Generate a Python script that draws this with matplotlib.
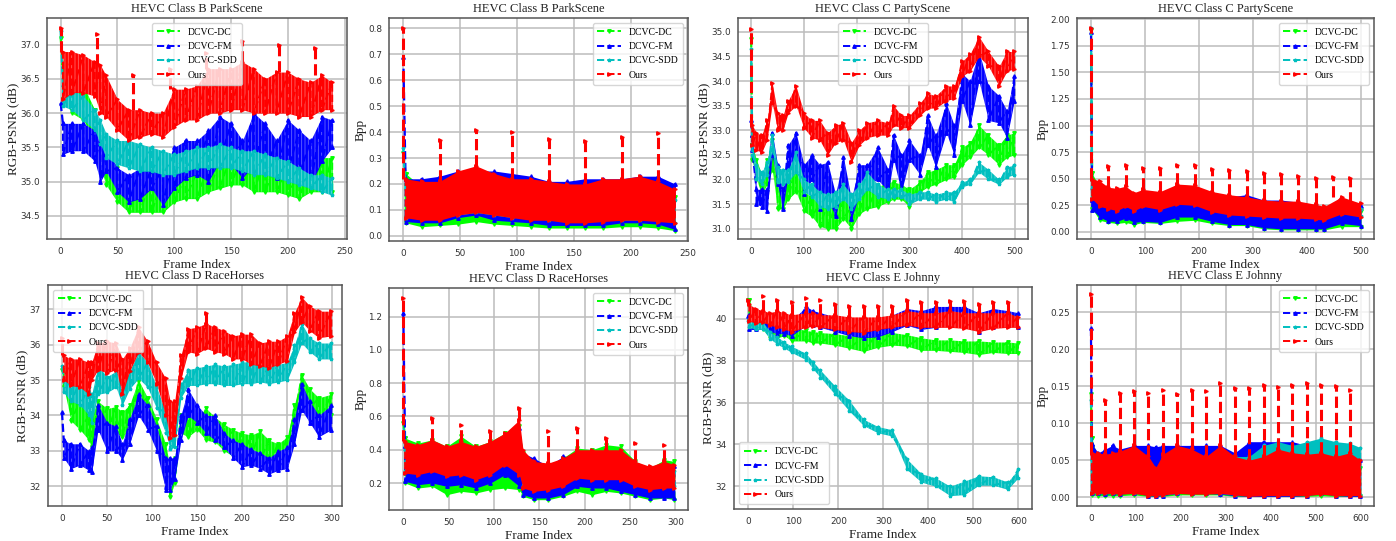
import numpy as np
import matplotlib
matplotlib.use("Agg")
import matplotlib.pyplot as plt

W, H = 1396, 541
SERIF = ["Liberation Serif", "DejaVu Serif"]
plt.rcParams["hatch.linewidth"] = 0.6

NAMES = ["DCVC-DC", "DCVC-FM", "DCVC-SDD", "Ours"]
COLORS = ["#00ff00", "#0000ff", "#00bfbf", "#ff0000"]
MARKERS = ["v", "^", "*", ">"]

# ── B ParkScene PSNR ──
A_FRAMES = [2, 10, 20, 30, 35, 40, 50, 60, 70, 80, 90, 100, 110, 120, 130, 140, 150, 160, 170, 180, 190, 200, 210, 220, 230, 239]
A_DC_HI = [36.7, 36.6, 36.4, 36.05, 35.8, 35.45, 35.2, 35.05, 35.05, 35.1, 35.05, 35.1, 35.1, 35.15, 35.25, 35.3, 35.4, 35.4, 35.3, 35.35, 35.3, 35.2, 35.15, 35.3, 35.35, 35.35]
A_DC_LO = [36.2, 36.0, 35.9, 35.6, 35.2, 34.95, 34.7, 34.55, 34.55, 34.55, 34.55, 34.7, 34.75, 34.75, 34.85, 34.9, 34.95, 34.95, 34.85, 34.85, 34.85, 34.8, 34.75, 34.85, 34.85, 34.85]
A_FM_HI = [35.85, 35.85, 35.85, 35.75, 35.6, 35.5, 35.2, 35.1, 35.2, 35.2, 35.2, 35.5, 35.6, 35.6, 35.75, 35.95, 35.85, 35.6, 36.0, 35.85, 35.6, 35.9, 35.75, 35.6, 35.95, 35.9]
A_FM_LO = [35.4, 35.45, 35.45, 35.3, 35.0, 35.15, 34.85, 34.7, 34.75, 34.9, 34.65, 34.9, 35.05, 35.1, 35.0, 35.3, 35.25, 35.05, 35.25, 35.15, 35.05, 35.15, 35.1, 34.95, 35.3, 35.5]
A_SDD_HI = [36.4, 36.35, 36.25, 36.05, 35.9, 35.7, 35.6, 35.6, 35.55, 35.5, 35.45, 35.4, 35.45, 35.5, 35.5, 35.55, 35.5, 35.45, 35.45, 35.4, 35.35, 35.3, 35.2, 35.1, 35.1, 35.05]
A_SDD_LO = [36.1, 36.05, 35.9, 35.75, 35.55, 35.35, 35.25, 35.2, 35.15, 35.15, 35.1, 35.1, 35.15, 35.2, 35.2, 35.2, 35.2, 35.15, 35.1, 35.1, 35.05, 35.0, 34.95, 34.9, 34.85, 34.8]
A_OURS_HI = [36.9, 36.9, 36.85, 36.75, 36.7, 36.55, 36.2, 36.05, 36.05, 36.0, 36.0, 36.35, 36.35, 36.4, 36.65, 36.65, 36.65, 36.75, 36.65, 36.5, 36.6, 36.6, 36.5, 36.45, 36.55, 36.45]
A_OURS_LO = [36.2, 36.3, 36.3, 36.25, 36.0, 35.95, 35.75, 35.6, 35.65, 35.7, 35.65, 35.8, 35.9, 35.9, 36.0, 36.0, 36.05, 36.05, 36.0, 36.0, 36.0, 36.0, 35.95, 35.95, 36.05, 36.05]
A_SPIKE_F = [0, 32, 64, 96, 128, 160, 192, 224]
A_SPIKE_V = [37.25, 37.15, 36.55, 36.65, 36.88, 37.05, 37.0, 36.95]
A_FIRST = [37.1, 36.15, 37.2]

# ── B ParkScene Bpp ──
B_FRAMES = [2, 16, 32, 48, 64, 80, 96, 112, 128, 144, 160, 176, 192, 208, 224, 239]
B_DC_HI = [.24, .19, .21, .24, .25, .23, .22, .2, .19, .19, .19, .21, .2, .21, .19, .15]
B_DC_LO = [.05, .035, .04, .045, .055, .045, .04, .035, .03, .03, .03, .03, .035, .035, .03, .02]
B_FM_HI = [.22, .22, .23, .25, .25, .25, .24, .23, .21, .21, .22, .22, .22, .23, .23, .2]
B_FM_LO = [.055, .05, .05, .07, .08, .06, .055, .05, .04, .04, .04, .04, .05, .05, .045, .025]
B_SDD_HI = [.18, .16, .17, .18, .2, .18, .17, .16, .16, .15, .15, .16, .16, .17, .16, .14]
B_SDD_LO = [.07, .07, .07, .08, .09, .08, .07, .07, .06, .06, .06, .06, .06, .06, .06, .05]
B_OURS_HI = [.22, .21, .21, .25, .27, .24, .22, .22, .21, .2, .2, .22, .22, .23, .21, .18]
B_OURS_LO = [.07, .06, .06, .08, .09, .08, .07, .06, .06, .05, .05, .055, .06, .06, .055, .05]
B_SPIKE_F = [0, 32, 64, 96, 128, 160, 192, 224]
B_SPIKE_V = [.8, .37, .41, .4, .375, .365, .38, .395]
B_FIRST = [.32, .69, .34]

# ── C PartyScene PSNR ──
C_FRAMES = [2, 10, 20, 30, 40, 50, 60, 70, 85, 100, 115, 130, 145, 160, 175, 190, 205, 220, 240, 260, 270, 285, 300, 320, 335, 350, 370, 385, 400, 415, 432, 450, 470, 485, 499]
C_DC_HI = [32.7, 32.4, 32.1, 32.4, 32.8, 32.0, 31.8, 32.15, 32.3, 31.75, 31.65, 31.5, 31.5, 31.5, 31.6, 31.45, 31.7, 31.95, 31.85, 31.95, 31.95, 31.9, 31.8, 31.95, 32.15, 32.2, 32.3, 32.3, 32.65, 32.75, 33.1, 32.9, 32.7, 32.9, 32.95]
C_DC_LO = [32.4, 32.0, 31.7, 31.9, 32.2, 31.4, 31.4, 31.6, 31.75, 31.35, 31.25, 31.05, 31.0, 31.0, 31.2, 31.0, 31.3, 31.4, 31.45, 31.55, 31.6, 31.6, 31.45, 31.75, 31.85, 31.9, 32.0, 32.05, 32.3, 32.45, 32.65, 32.5, 32.3, 32.45, 32.5]
C_FM_HI = [32.9, 31.8, 31.8, 31.8, 32.95, 32.3, 31.8, 32.7, 32.95, 32.3, 32.5, 32.3, 32.35, 31.7, 32.45, 31.6, 32.3, 32.3, 32.65, 32.2, 32.9, 32.5, 32.8, 32.5, 33.3, 32.9, 33.55, 33.1, 34.15, 34.0, 34.6, 33.9, 33.7, 33.4, 34.1]
C_FM_LO = [32.6, 31.5, 31.45, 31.35, 32.5, 31.9, 31.4, 32.1, 32.4, 31.7, 32.0, 31.4, 31.6, 31.25, 31.9, 31.2, 31.7, 31.9, 32.0, 31.75, 32.4, 31.75, 32.4, 32.1, 32.7, 32.25, 32.95, 32.5, 33.6, 33.1, 34.0, 33.2, 33.15, 32.85, 33.6]
C_SDD_HI = [32.7, 32.3, 32.15, 32.35, 32.9, 32.25, 32.2, 32.2, 32.55, 32.0, 31.9, 31.75, 31.7, 31.75, 31.9, 31.7, 31.9, 32.15, 31.9, 31.8, 31.8, 31.8, 31.7, 31.75, 31.75, 31.7, 31.75, 31.75, 31.95, 32.0, 32.35, 32.2, 32.0, 32.25, 32.3]
C_SDD_LO = [32.5, 32.0, 31.9, 32.1, 32.6, 31.95, 31.9, 31.95, 32.15, 31.75, 31.65, 31.45, 31.4, 31.45, 31.6, 31.4, 31.6, 31.8, 31.65, 31.6, 31.65, 31.65, 31.5, 31.6, 31.6, 31.55, 31.6, 31.55, 31.85, 31.9, 32.15, 32.0, 31.9, 32.05, 32.1]
C_OURS_HI = [33.1, 32.95, 32.9, 33.2, 33.95, 33.35, 33.3, 33.6, 33.9, 33.35, 33.2, 33.2, 32.95, 33.1, 33.15, 32.75, 33.0, 33.15, 33.2, 33.15, 33.5, 33.3, 33.3, 33.55, 33.75, 33.7, 33.9, 33.9, 34.4, 34.55, 34.9, 34.6, 34.3, 34.6, 34.6]
C_OURS_LO = [32.7, 32.6, 32.55, 32.8, 33.55, 33.0, 33.0, 33.35, 33.5, 33.05, 32.85, 32.8, 32.5, 32.75, 32.8, 32.35, 32.7, 32.85, 32.9, 32.9, 33.1, 33.05, 33.05, 33.3, 33.45, 33.45, 33.6, 33.65, 34.1, 34.2, 34.5, 34.3, 33.9, 34.2, 34.25]
C_SPIKE_F = [0]
C_SPIKE_V = [35.05]
C_FIRST = [34.85, 33.2, 34.65]

# ── C PartyScene Bpp ──
D_FRAMES = [2, 16, 32, 48, 64, 80, 96, 128, 160, 192, 224, 256, 288, 320, 352, 384, 416, 432, 464, 499]
D_DC_HI = [.55, .42, .35, .3, .38, .3, .33, .32, .36, .36, .3, .28, .27, .24, .23, .22, .2, .19, .25, .2]
D_DC_LO = [.22, .11, .09, .08, .09, .07, .09, .08, .1, .11, .08, .06, .06, .03, .02, .02, .02, .02, .05, .05]
D_FM_HI = [.3, .3, .33, .33, .38, .34, .36, .35, .38, .38, .34, .33, .35, .3, .3, .28, .25, .22, .3, .24]
D_FM_LO = [.21, .14, .1, .1, .13, .09, .1, .09, .14, .14, .1, .07, .07, .04, .03, .03, .03, .03, .08, .06]
D_SDD_HI = [.4, .35, .32, .32, .36, .32, .34, .33, .38, .38, .33, .3, .29, .26, .24, .24, .22, .2, .27, .22]
D_SDD_LO = [.32, .25, .23, .21, .25, .21, .25, .22, .27, .26, .2, .17, .16, .15, .14, .14, .13, .12, .18, .15]
D_OURS_HI = [.5, .48, .42, .41, .43, .37, .4, .38, .45, .44, .38, .35, .33, .3, .29, .29, .26, .24, .33, .27]
D_OURS_LO = [.31, .24, .22, .2, .24, .2, .24, .21, .26, .25, .19, .16, .15, .14, .13, .13, .12, .11, .17, .14]
D_SPIKE_F = [0, 32, 64, 96, 128, 160, 192, 224, 256, 288, 320, 352, 384, 416, 448, 480]
D_SPIKE_V = [1.92, .62, .63, .6, .6, .63, .63, .59, .58, .57, .55, .54, .53, .51, .52, .51]
D_FIRST = [1.9, 1.88, 1.92]

# ── D RaceHorses PSNR ──
E_FRAMES = [2, 10, 20, 30, 33, 40, 50, 60, 67, 75, 85, 95, 105, 115, 120, 125, 132, 140, 150, 160, 170, 180, 190, 200, 210, 220, 230, 240, 250, 258, 266, 275, 285, 299]
E_DC_HI = [35.3, 34.6, 34.4, 34.0, 34.0, 34.4, 34.2, 34.25, 34.1, 34.3, 35.0, 34.5, 33.9, 33.2, 32.5, 32.8, 34.0, 34.05, 33.9, 34.2, 33.95, 33.75, 33.6, 33.5, 33.45, 33.55, 33.3, 33.2, 33.4, 34.3, 35.15, 34.75, 34.5, 34.6]
E_DC_LO = [34.8, 33.85, 33.6, 33.3, 33.1, 33.7, 33.5, 33.5, 33.4, 33.6, 34.3, 33.9, 33.2, 32.4, 31.7, 32.1, 33.5, 33.4, 33.6, 33.3, 33.25, 33.0, 32.85, 32.8, 32.85, 32.75, 32.65, 32.6, 32.8, 33.8, 34.4, 34.2, 33.8, 34.0]
E_FM_HI = [33.3, 33.2, 33.2, 33.0, 33.1, 34.3, 33.8, 33.7, 33.2, 33.9, 34.6, 34.3, 33.7, 32.8, 32.8, 32.8, 34.0, 34.75, 34.3, 34.0, 34.0, 33.5, 33.3, 33.2, 33.05, 32.95, 32.8, 33.0, 33.1, 33.9, 34.9, 34.4, 34.0, 34.3]
E_FM_LO = [32.8, 32.5, 32.6, 32.45, 32.4, 33.6, 33.0, 33.0, 32.75, 33.2, 34.0, 33.6, 33.0, 31.9, 31.9, 32.2, 33.3, 34.0, 33.8, 33.5, 33.3, 33.1, 32.8, 32.55, 32.6, 32.5, 32.35, 32.45, 32.5, 33.2, 34.15, 33.8, 33.4, 33.6]
E_SDD_HI = [35.1, 35.05, 34.95, 34.8, 34.6, 35.4, 35.1, 35.25, 34.95, 35.25, 35.8, 35.5, 34.8, 34.1, 33.55, 33.6, 34.9, 35.3, 35.35, 35.4, 35.45, 35.4, 35.45, 35.5, 35.55, 35.55, 35.4, 35.45, 35.5, 36.0, 36.6, 36.2, 36.05, 36.05]
E_SDD_LO = [34.65, 34.4, 34.3, 34.0, 33.8, 34.6, 34.65, 34.8, 34.3, 34.75, 35.05, 34.8, 34.2, 33.5, 33.05, 33.1, 34.5, 34.85, 34.85, 34.9, 34.9, 34.85, 34.85, 34.9, 34.9, 34.95, 34.9, 34.95, 35.0, 35.5, 36.05, 35.8, 35.6, 35.6]
E_OURS_HI = [35.7, 35.6, 35.6, 35.5, 35.5, 36.05, 36.1, 36.05, 35.6, 35.9, 36.5, 36.1, 35.5, 35.05, 34.4, 34.4, 35.7, 36.45, 36.5, 36.6, 36.5, 36.4, 36.25, 36.3, 36.3, 36.05, 36.1, 36.1, 36.25, 36.9, 37.35, 37.1, 36.95, 36.95]
E_OURS_LO = [35.0, 34.85, 34.8, 34.6, 35.0, 35.3, 35.2, 35.3, 34.6, 35.25, 35.8, 35.5, 34.9, 34.0, 33.35, 33.45, 35.05, 35.8, 35.75, 35.9, 35.8, 35.75, 35.6, 35.6, 35.45, 35.4, 35.35, 35.45, 35.55, 36.35, 36.65, 36.4, 36.2, 36.25]
E_SPIKE_F = [0, 160]
E_SPIKE_V = [36.2, 36.9]
E_FIRST = [35.3, 34.1, 35.4]

# ── D RaceHorses Bpp ──
F_FRAMES = [2, 16, 32, 48, 64, 80, 96, 112, 128, 132, 144, 160, 176, 192, 208, 224, 240, 256, 272, 288, 299]
F_DC_HI = [.47, .44, .46, .42, .48, .42, .45, .5, .54, .38, .32, .31, .35, .41, .4, .43, .42, .33, .29, .34, .33]
F_DC_LO = [.2, .17, .18, .13, .15, .14, .16, .17, .16, .12, .1, .1, .12, .15, .13, .15, .14, .12, .1, .11, .1]
F_FM_HI = [.42, .41, .44, .38, .42, .39, .43, .47, .53, .38, .35, .3, .36, .36, .36, .37, .37, .31, .27, .3, .3]
F_FM_LO = [.21, .19, .2, .18, .19, .17, .2, .25, .18, .13, .11, .11, .13, .18, .17, .17, .15, .13, .11, .11, .11]
F_SDD_HI = [.4, .37, .38, .35, .38, .35, .38, .42, .45, .33, .27, .26, .3, .34, .34, .35, .34, .28, .25, .28, .27]
F_SDD_LO = [.27, .26, .28, .25, .26, .23, .26, .32, .26, .18, .16, .17, .19, .24, .23, .23, .23, .19, .17, .18, .18]
F_OURS_HI = [.45, .43, .46, .42, .45, .42, .45, .5, .58, .4, .33, .32, .35, .4, .4, .4, .4, .33, .3, .33, .31]
F_OURS_LO = [.26, .25, .27, .24, .25, .22, .25, .31, .25, .17, .15, .16, .18, .23, .22, .22, .22, .18, .16, .17, .17]
F_SPIKE_F = [0, 32, 64, 96, 128, 160, 192, 224, 256, 288]
F_SPIKE_V = [1.31, .59, .55, .51, .65, .51, .53, .47, .44, .43]
F_FIRST = [.56, 1.22, .6]

# ── E Johnny PSNR ──
G_FRAMES = [2, 16, 32, 48, 64, 80, 96, 128, 144, 160, 192, 224, 256, 288, 320, 352, 384, 416, 448, 480, 512, 544, 576, 599]
G_DC_HI = [40.9, 40.0, 39.9, 39.7, 39.75, 39.9, 39.6, 39.45, 39.4, 39.35, 39.3, 39.2, 39.15, 39.35, 39.35, 39.25, 39.1, 39.0, 39.0, 38.95, 38.95, 38.9, 38.9, 38.85]
G_DC_LO = [40.0, 39.5, 39.5, 39.1, 39.1, 39.2, 38.95, 38.95, 38.85, 38.85, 38.75, 38.6, 38.45, 38.65, 38.75, 38.7, 38.5, 38.5, 38.45, 38.4, 38.3, 38.4, 38.35, 38.35]
G_FM_HI = [40.2, 40.0, 40.1, 39.9, 39.9, 39.9, 39.9, 40.6, 40.4, 40.3, 40.1, 39.9, 39.9, 39.9, 40.2, 40.5, 40.4, 40.6, 40.6, 40.6, 40.3, 40.5, 40.4, 40.3]
G_FM_LO = [39.5, 39.5, 39.6, 39.4, 39.3, 39.3, 39.2, 39.7, 39.7, 39.6, 39.4, 39.2, 39.1, 39.15, 39.4, 39.7, 39.5, 39.6, 39.7, 39.7, 39.4, 39.6, 39.7, 39.6]
G_SDD_HI = [40.0, 39.85, 39.85, 39.4, 39.15, 38.9, 38.7, 38.35, 37.95, 37.55, 36.8, 36.1, 35.2, 34.85, 34.7, 33.3, 32.6, 32.4, 32.0, 32.25, 32.5, 32.45, 32.2, 32.8]
G_SDD_LO = [39.6, 39.5, 39.5, 39.05, 38.8, 38.6, 38.4, 38.05, 37.6, 37.2, 36.4, 35.6, 34.9, 34.55, 34.4, 32.8, 32.2, 32.0, 31.55, 31.6, 32.05, 32.05, 31.85, 32.4]
G_OURS_HI = [40.7, 40.5, 40.4, 40.3, 40.4, 40.3, 40.2, 40.3, 40.3, 40.2, 40.2, 40.1, 40.1, 40.1, 40.2, 40.4, 40.3, 40.3, 40.4, 40.3, 40.3, 40.3, 40.3, 40.1]
G_OURS_LO = [39.9, 39.8, 39.85, 39.7, 39.6, 39.5, 39.4, 39.6, 39.65, 39.6, 39.5, 39.4, 39.35, 39.5, 39.6, 39.7, 39.6, 39.6, 39.6, 39.55, 39.4, 39.55, 39.6, 39.6]
G_SPIKE_F = [0, 32, 64, 96, 128, 160, 192, 224, 256, 288, 320, 352, 384, 416, 448, 480, 512, 544, 576]
G_SPIKE_V = [40.9, 41.1, 40.9, 40.8, 41.0, 40.9, 40.7, 40.6, 40.6, 40.6, 40.6, 40.9, 40.8, 40.8, 40.85, 40.85, 40.7, 40.8, 40.8]
G_FIRST = [40.9, 40.15, 39.9]

# ── E Johnny Bpp ──
H_FRAMES = [2, 16, 32, 48, 64, 96, 128, 144, 160, 192, 224, 256, 288, 320, 352, 384, 416, 448, 480, 512, 544, 576, 599]
H_DC_HI = [.08, .05, .05, .055, .05, .055, .045, .035, .05, .06, .055, .05, .06, .05, .045, .05, .055, .05, .05, .055, .05, .05, .04]
H_DC_LO = [.003, .002, .002, .002, .002, .003, .001, .001, .001, .003, .003, .003, .003, .001, .001, .001, .001, .001, .001, .002, .001, .001, .001]
H_FM_HI = [.072, .06, .065, .07, .065, .07, .07, .068, .07, .07, .07, .07, .07, .06, .075, .075, .075, .075, .07, .072, .072, .07, .05]
H_FM_LO = [.005, .005, .004, .005, .004, .006, .002, .001, .002, .005, .006, .005, .004, .002, .001, .001, .001, .001, .002, .005, .002, .001, .001]
H_SDD_HI = [.05, .05, .05, .05, .05, .055, .045, .035, .05, .06, .055, .05, .06, .055, .055, .07, .075, .07, .075, .08, .075, .073, .067]
H_SDD_LO = [.005, .005, .005, .005, .005, .005, .003, .003, .003, .005, .005, .005, .005, .003, .003, .003, .003, .003, .003, .004, .003, .003, .003]
H_OURS_HI = [.06, .06, .058, .06, .062, .07, .055, .04, .058, .07, .065, .055, .07, .055, .05, .055, .065, .06, .058, .06, .055, .06, .05]
H_OURS_LO = [.006, .005, .005, .005, .004, .005, .002, .002, .003, .005, .004, .004, .005, .003, .001, .002, .002, .002, .002, .004, .002, .002, .002]
H_SPIKE_F = [0, 32, 64, 96, 128, 160, 192, 224, 256, 288, 320, 352, 384, 416, 448, 480, 512, 544, 576]
H_SPIKE_V = [.275, .132, .141, .143, .141, .145, .14, .145, .144, .154, .147, .148, .152, .149, .152, .154, .152, .15, .145]
H_FIRST = [.14, .229, .132]

TITLES = ["HEVC Class B ParkScene", "HEVC Class B ParkScene", "HEVC Class C PartyScene", "HEVC Class C PartyScene",
          "HEVC Class D RaceHorses", "HEVC Class D RaceHorses", "HEVC Class E Johnny", "HEVC Class E Johnny"]
YLABELS = ["RGB-PSNR (dB)", "Bpp", "RGB-PSNR (dB)", "Bpp", "RGB-PSNR (dB)", "Bpp", "RGB-PSNR (dB)", "Bpp"]

panels = [
    (A_FRAMES, (A_DC_HI, A_DC_LO), (A_FM_HI, A_FM_LO), (A_SDD_HI, A_SDD_LO), (A_OURS_HI, A_OURS_LO), A_SPIKE_F, A_SPIKE_V, A_FIRST),
    (B_FRAMES, (B_DC_HI, B_DC_LO), (B_FM_HI, B_FM_LO), (B_SDD_HI, B_SDD_LO), (B_OURS_HI, B_OURS_LO), B_SPIKE_F, B_SPIKE_V, B_FIRST),
    (C_FRAMES, (C_DC_HI, C_DC_LO), (C_FM_HI, C_FM_LO), (C_SDD_HI, C_SDD_LO), (C_OURS_HI, C_OURS_LO), C_SPIKE_F, C_SPIKE_V, C_FIRST),
    (D_FRAMES, (D_DC_HI, D_DC_LO), (D_FM_HI, D_FM_LO), (D_SDD_HI, D_SDD_LO), (D_OURS_HI, D_OURS_LO), D_SPIKE_F, D_SPIKE_V, D_FIRST),
    (E_FRAMES, (E_DC_HI, E_DC_LO), (E_FM_HI, E_FM_LO), (E_SDD_HI, E_SDD_LO), (E_OURS_HI, E_OURS_LO), E_SPIKE_F, E_SPIKE_V, E_FIRST),
    (F_FRAMES, (F_DC_HI, F_DC_LO), (F_FM_HI, F_FM_LO), (F_SDD_HI, F_SDD_LO), (F_OURS_HI, F_OURS_LO), F_SPIKE_F, F_SPIKE_V, F_FIRST),
    (G_FRAMES, (G_DC_HI, G_DC_LO), (G_FM_HI, G_FM_LO), (G_SDD_HI, G_SDD_LO), (G_OURS_HI, G_OURS_LO), G_SPIKE_F, G_SPIKE_V, G_FIRST),
    (H_FRAMES, (H_DC_HI, H_DC_LO), (H_FM_HI, H_FM_LO), (H_SDD_HI, H_SDD_LO), (H_OURS_HI, H_OURS_LO), H_SPIKE_F, H_SPIKE_V, H_FIRST),
]

# pixel boxes: left, right, top, bottom
BOXES = [(47, 347, 18, 239), (389, 688, 18, 241), (738, 1028, 18, 239), (1077, 1374, 18, 239),
         (48, 342, 285, 506), (389, 688, 288, 510), (734, 1032, 287, 509), (1077, 1374, 285, 506)]
XLIMS = [(-12, 252), (-12.6, 250.5), (-25, 525), (-26, 524), (-15.5, 310.8), (-15.8, 314), (-32, 630), (-31, 629.6)]
YLIMS = [(34.16, 37.39), (-0.02, 0.84), (30.79, 35.28), (-0.066, 2.01), (31.44, 37.69), (0.038, 1.372), (30.91, 41.53), (-0.012, 0.287)]
XSTEPS = [50, 50, 100, 100, 50, 50, 100, 100]
LEG_LOCS = ["upper center", "upper right", "upper center", "upper right", "upper left", "upper right", "lower left", "upper right"]


def draw_series(ax, frames, hi, lo, color, marker, label, z, textured):
    frames = np.array(frames)
    hi, lo = np.array(hi), np.array(lo)
    ax.fill_between(frames, lo, hi, color=color, lw=0, zorder=z)
    if textured:
        # frame-to-frame swing leaves light gaps in the PSNR bands
        ax.fill_between(frames, lo, hi, facecolor="none", edgecolor=(1, 1, 1, 0.4),
                        hatch="|||||", lw=0, zorder=z)
    zig_x = np.repeat(frames, 2)
    zig_y = np.column_stack([hi, lo]).ravel()
    ax.plot(zig_x, zig_y, color=color, ls="--", lw=1.4, marker=marker, ms=2.5, label=label, zorder=z)


fig = plt.figure(figsize=(W / 100, H / 100), dpi=100)

for i, (frames, dc, fm, sdd, ours, spike_f, spike_v, first) in enumerate(panels):
    l, r, t, b = BOXES[i]
    ax = fig.add_axes([l / W, 1 - b / H, (r - l) / W, (b - t) / H])
    textured = YLABELS[i] != "Bpp"

    for j, (hi, lo) in enumerate([dc, fm, sdd]):
        draw_series(ax, frames, hi, lo, COLORS[j], MARKERS[j], NAMES[j], 3 + j, textured)
        # first-frame value, tied to the next knot
        ax.plot([0, frames[0]], [first[j], hi[0]], color=COLORS[j], ls="--", lw=1.6,
                marker=MARKERS[j], ms=2.5, zorder=3 + j)
    draw_series(ax, frames, ours[0], ours[1], COLORS[3], MARKERS[3], NAMES[3], 6, textured)

    # key-frame spikes of our codec
    idx = np.searchsorted(frames, spike_f).clip(max=len(frames) - 1)
    bases = np.array(ours[0])[idx]
    ax.vlines(spike_f, bases, spike_v, color=COLORS[3], ls="--", lw=2.2, zorder=6)
    ax.plot(spike_f, spike_v, color=COLORS[3], ls="none", marker=MARKERS[3], ms=2.5, zorder=6)

    ax.set_xlim(*XLIMS[i])
    ax.set_ylim(*YLIMS[i])
    ax.xaxis.set_major_locator(plt.MultipleLocator(XSTEPS[i]))
    ax.grid(True, color="#bcbcbc", lw=1.1)
    ax.set_axisbelow(True)
    ax.tick_params(labelsize=6.4, colors="#333333", length=0)
    ax.tick_params(axis="x", pad=6)
    ax.tick_params(axis="y", pad=5)
    for s in ax.spines.values():
        s.set_color("#555555")
        s.set_linewidth(1.1)
    ax.set_title(TITLES[i], family=SERIF, fontsize=9, color="#222222", pad=4)
    ax.set_xlabel("Frame Index", family=SERIF, fontsize=9.5, color="#222222", labelpad=2)
    ax.set_ylabel(YLABELS[i], family=SERIF, fontsize=9.5, color="#222222", labelpad=1)
    leg = ax.legend(loc=LEG_LOCS[i], prop={"family": SERIF, "size": 7}, framealpha=0.8,
                    labelspacing=0.55, borderpad=0.5, handlelength=2.4)
    leg.set_zorder(10)

fig.savefig("out.png", dpi=100)
